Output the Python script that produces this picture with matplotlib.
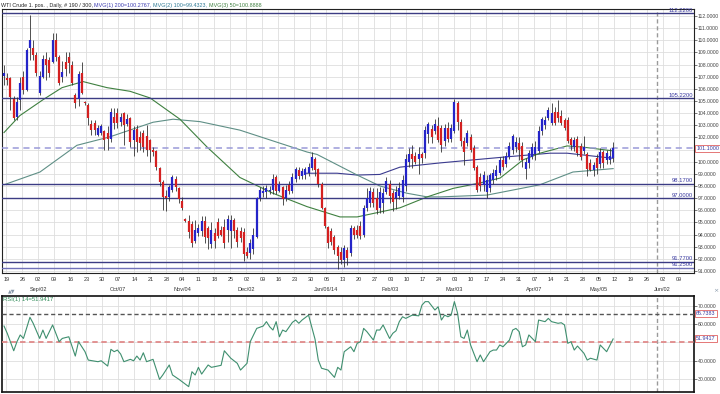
import matplotlib
matplotlib.use('Agg')
import matplotlib.pyplot as plt
import matplotlib.transforms as mtransforms
import numpy as np

plt.rcParams['font.family'] = ['Liberation Sans', 'DejaVu Sans']

# === Daily OHLC bars (WTI crude, Aug 2013 - May 2014) ===
opens = [107.1, 106.9, 106.9, 105.2, 103.7, 105.1, 107.0, 105.9, 109.4, 109.4,
         108.8, 105.7, 107.0, 108.5, 108.4, 108.2, 110.0, 108.6, 107.0, 108.2,
         108.6, 108.0, 105.5, 105.2, 107.3, 104.9, 104.7, 103.1, 103.2, 102.2,
         102.4, 102.5, 102.4, 101.9, 103.7, 104.0, 103.3, 104.0, 103.1, 103.6,
         101.8, 102.7, 102.0, 102.4, 102.1, 101.8, 101.0, 100.9, 99.5, 98.3,
         97.2, 97.1, 97.7, 98.6, 97.8, 96.8, 95.3, 95.1, 94.9, 93.5,
         94.1, 94.3, 95.1, 94.5, 93.2, 94.1, 95.0, 94.4, 94.6, 94.4,
         94.3, 95.2, 94.4, 94.3, 94.2, 92.6, 92.5, 92.8, 93.8, 97.0,
         97.4, 97.5, 97.6, 97.7, 98.7, 97.6, 97.9, 97.0, 98.1, 97.6,
         98.6, 99.3, 98.8, 98.9, 99.1, 99.5, 100.2, 99.4, 98.2, 96.2,
         94.6, 94.3, 93.8, 93.0, 92.6, 91.9, 92.7, 92.5, 94.5, 94.4,
         94.7, 94.0, 96.2, 96.6, 97.5, 97.0, 96.2, 96.6, 97.5, 98.2,
         97.4, 97.0, 97.2, 97.1, 98.0, 100.0, 100.6, 100.5, 100.2, 100.6,
         100.7, 102.3, 102.7, 102.5, 102.9, 102.8, 101.7, 102.8, 101.9, 102.5,
         104.8, 103.3, 101.7, 101.5, 102.0, 101.1, 99.6, 98.7, 98.1, 97.5,
         97.8, 98.5, 98.8, 99.1, 100.1, 99.8, 100.4, 101.0, 101.2, 101.5,
         101.3, 99.4, 99.9, 100.4, 100.6, 100.9, 102.5, 103.0, 103.6, 103.2,
         104.1, 104.1, 103.8, 103.4, 103.4, 101.9, 101.2, 101.9, 101.3, 100.9,
         100.6, 99.9, 99.3, 100.3, 99.8, 100.8, 100.1, 100.1, 100.3]
highs = [108.0, 107.3, 107.0, 105.4, 105.3, 107.0, 107.5, 109.4, 112.1, 110.0,
         109.0, 107.5, 108.8, 109.0, 108.6, 110.6, 110.6, 108.8, 108.3, 109.0,
         109.0, 108.3, 105.7, 107.5, 108.2, 105.0, 104.8, 103.4, 103.4, 103.0,
         103.1, 102.6, 102.9, 104.4, 104.4, 104.4, 104.0, 104.1, 103.9, 103.7,
         102.9, 103.0, 102.5, 102.6, 103.0, 101.9, 101.2, 101.0, 99.6, 98.5,
         97.7, 98.1, 98.9, 98.8, 97.9, 97.1, 95.4, 95.6, 95.1, 95.2,
         94.9, 95.5, 95.5, 94.7, 95.0, 94.5, 95.4, 94.7, 95.3, 95.6,
         95.6, 95.4, 94.6, 94.6, 94.5, 93.0, 93.6, 94.5, 97.1, 97.9,
         98.0, 98.1, 98.0, 99.0, 98.9, 98.4, 98.0, 98.1, 98.4, 99.1,
         99.6, 99.6, 99.5, 99.6, 99.9, 100.8, 100.4, 99.5, 98.3, 96.3,
         94.7, 94.5, 94.0, 93.1, 93.0, 93.1, 93.0, 94.8, 94.7, 94.8,
         95.1, 96.4, 97.8, 97.9, 97.8, 97.8, 97.9, 97.8, 98.7, 98.5,
         97.7, 98.0, 98.3, 98.9, 100.6, 101.1, 101.4, 100.8, 101.2, 100.8,
         102.9, 103.3, 103.0, 103.5, 103.7, 103.0, 103.1, 103.3, 103.1, 105.2,
         105.0, 103.5, 102.0, 102.6, 102.3, 101.4, 99.7, 99.1, 99.2, 98.9,
         99.1, 99.4, 99.7, 100.4, 100.5, 100.8, 101.6, 102.3, 102.0, 102.0,
         101.6, 100.3, 101.0, 101.5, 101.7, 102.9, 103.7, 103.8, 104.5, 104.8,
         104.5, 105.1, 104.3, 103.6, 103.7, 102.0, 102.0, 102.1, 101.5, 102.1,
         100.8, 100.2, 100.0, 100.6, 101.1, 101.0, 101.0, 101.1, 101.6]
lows = [106.3, 106.3, 104.3, 103.4, 103.4, 104.3, 105.6, 105.8, 108.4, 108.4,
        107.1, 105.5, 106.9, 106.7, 107.0, 108.1, 108.3, 106.3, 106.6, 107.1,
        107.3, 106.3, 104.4, 104.6, 105.6, 104.7, 103.0, 102.2, 102.2, 102.1,
        102.2, 101.0, 101.0, 101.6, 102.7, 102.8, 102.9, 101.4, 102.9, 101.2,
        100.5, 100.8, 101.0, 100.8, 100.5, 100.0, 100.5, 99.3, 98.0, 96.0,
        95.9, 96.8, 97.5, 97.6, 96.6, 96.0, 95.0, 93.7, 93.0, 93.3,
        93.9, 93.9, 93.3, 92.8, 92.9, 92.9, 93.7, 93.9, 92.9, 93.4,
        92.9, 93.7, 93.0, 93.4, 91.8, 92.1, 92.0, 92.4, 93.7, 96.8,
        97.1, 97.0, 97.3, 97.3, 97.3, 97.5, 96.4, 96.8, 97.3, 97.4,
        98.3, 98.6, 98.6, 98.6, 98.8, 99.3, 98.8, 97.9, 96.1, 94.5,
        92.9, 93.1, 92.4, 91.2, 91.6, 91.3, 91.5, 92.2, 93.6, 93.7,
        93.6, 93.8, 95.9, 96.3, 96.3, 95.7, 95.8, 95.8, 97.3, 96.6,
        95.9, 96.1, 96.9, 96.7, 97.6, 99.6, 99.5, 99.8, 99.0, 99.9,
        100.3, 101.5, 101.5, 102.3, 101.6, 100.8, 101.3, 101.6, 101.6, 102.4,
        102.6, 101.3, 99.7, 101.3, 100.8, 99.3, 97.5, 97.6, 97.6, 97.0,
        97.5, 98.2, 98.5, 98.9, 99.3, 99.6, 100.2, 100.6, 100.8, 100.1,
        99.6, 98.6, 99.5, 100.2, 100.1, 100.7, 102.2, 102.7, 103.4, 103.0,
        103.0, 103.3, 103.0, 102.6, 101.5, 101.0, 100.9, 100.5, 100.1, 100.6,
        98.8, 99.2, 98.8, 99.0, 99.5, 99.5, 99.8, 99.8, 100.0]
closes = [107.3, 106.7, 105.3, 103.6, 104.9, 106.5, 105.9, 109.2, 110.0, 108.8,
          107.3, 107.1, 108.5, 108.0, 107.3, 110.0, 108.6, 106.5, 107.4, 107.6,
          108.1, 106.5, 104.8, 107.2, 105.7, 104.8, 103.6, 102.6, 102.6, 102.8,
          102.9, 101.8, 101.9, 104.1, 103.2, 103.2, 103.7, 103.0, 103.5, 101.6,
          102.6, 101.6, 101.5, 101.2, 101.0, 101.0, 100.8, 99.6, 98.3, 97.1,
          97.0, 97.9, 98.7, 97.9, 96.9, 96.2, 95.1, 94.2, 93.3, 94.4,
          94.5, 95.1, 93.8, 93.7, 94.4, 93.5, 93.9, 94.0, 93.3, 95.3,
          95.2, 94.3, 93.4, 93.7, 92.4, 92.2, 93.3, 94.0, 97.0, 97.7,
          97.6, 97.8, 97.7, 98.6, 97.6, 98.2, 96.9, 97.7, 97.6, 98.7,
          99.4, 98.8, 99.2, 99.4, 99.6, 100.4, 99.3, 98.2, 96.2, 94.7,
          93.3, 93.4, 92.7, 92.2, 91.9, 92.9, 92.1, 94.5, 94.0, 94.0,
          93.9, 96.2, 97.0, 97.6, 96.6, 96.0, 97.5, 97.4, 98.4, 97.2,
          96.7, 97.5, 97.8, 98.5, 100.2, 100.6, 100.2, 100.0, 100.6, 100.3,
          102.6, 103.1, 102.0, 103.1, 101.8, 101.4, 102.8, 101.9, 102.8, 104.9,
          103.3, 101.7, 100.8, 102.4, 101.0, 99.5, 97.7, 98.0, 98.9, 98.5,
          98.9, 99.1, 99.3, 100.1, 99.6, 100.5, 101.3, 102.1, 101.6, 101.0,
          100.1, 100.0, 100.7, 101.2, 101.2, 102.5, 103.5, 103.4, 104.3, 104.0,
          103.2, 103.6, 103.2, 102.8, 101.7, 101.4, 101.8, 100.7, 100.4, 101.2,
          99.4, 99.3, 99.7, 99.5, 100.8, 99.9, 100.7, 100.5, 101.1]

# moving averages, read as knots (bar position, value)
ma200_pos = [93, 102.8, 109.0, 116.0, 122.2, 134.6, 144.8, 155.2, 168.5, 173.8, 188]
ma200_val = [99.05, 99.05, 98.9, 98.95, 99.55, 99.9, 100.15, 100.4, 100.7, 100.7, 100.28]
ma100_pos = [0, 11.1, 22.5, 32.7, 46.0, 52.2, 60.5, 72.8, 93.5, 96.6, 109.0, 116.0,
             124.4, 130.6, 134.6, 149.1, 165.4, 175.6, 188]
ma100_val = [98.1, 99.15, 101.35, 102.05, 103.25, 103.5, 103.3, 102.6, 100.8, 100.6,
             98.9, 98.0, 97.4, 97.1, 97.1, 97.25, 98.1, 99.15, 99.43]
ma50_pos = [0, 4.9, 12.0, 17.9, 24.4, 31.8, 38.9, 45.1, 54.3, 62.7, 72.8, 83.0, 93.5,
            103.7, 109.0, 116.0, 122.2, 130.6, 138.6, 146.9, 153.1, 160.2, 165.4,
            173.8, 178.7, 188]
ma50_val = [102.4, 103.8, 105.1, 106.1, 106.6, 106.1, 105.8, 105.25, 103.5, 101.2, 98.7,
            97.4, 96.3, 95.45, 95.45, 95.85, 96.2, 97.1, 97.8, 98.25, 98.65, 100.15,
            100.7, 101.3, 101.2, 100.89]

# RSI(14), read as (bar position, value)
rsi_pos = [0, 1, 3, 4, 5, 6, 8, 9, 11, 12, 13, 15, 17, 18, 20, 22, 23, 25, 26, 29,
           30, 32, 33, 34, 35, 36, 37, 39, 40, 41, 42, 43, 44, 46, 48, 49, 51, 52, 54, 57,
           58, 59, 60, 61, 63, 64, 66, 67, 68, 70, 72, 73, 75, 76, 78, 80, 81, 82, 83, 84,
           85, 86, 87, 89, 90, 91, 92, 94, 96, 97, 98, 100, 102, 103, 104, 105, 107, 108,
           109, 110, 111, 112, 114, 115, 116, 117, 119, 120, 121, 122, 123, 124, 126, 128,
           129, 130, 131, 133, 134, 135, 136, 137, 138, 139, 140, 141, 142, 143, 144, 146,
           147, 148, 150, 151, 152, 153, 154, 156, 157, 158, 159, 160, 161, 162, 164, 165,
           167, 168, 169, 171, 172, 173, 174, 175, 176, 177, 179, 180, 181, 183, 184, 186, 188]
rsi_val = [59.0, 55.0, 45.4, 50.4, 54.1, 52.2, 63.8, 60.5, 52.2, 56.8, 52.2, 59.6, 50.4,
           52.2, 53.1, 42.5, 50.4, 44.9, 40.3, 39.4, 39.9, 37.0, 46.2, 44.9, 45.8, 43.6,
           39.4, 40.7, 39.9, 42.5, 40.3, 44.3, 39.4, 40.7, 29.7, 32.1, 37.6, 32.1, 29.7,
           25.7, 33.9, 32.1, 36.3, 32.6, 37.6, 36.3, 37.0, 37.4, 45.4, 41.3, 38.5, 34.8,
           38.5, 50.4, 57.7, 59.0, 61.4, 58.6, 56.8, 61.4, 53.1, 56.8, 55.9, 61.0, 62.3,
           60.5, 62.3, 65.0, 51.7, 40.3, 35.8, 34.8, 30.8, 36.3, 34.8, 44.9, 47.6, 44.9,
           49.5, 50.4, 57.7, 55.9, 51.3, 56.8, 56.8, 59.6, 52.2, 55.0, 56.4, 61.4, 64.1,
           63.2, 65.0, 64.6, 70.5, 72.4, 72.4, 67.8, 69.6, 62.3, 65.0, 64.1, 65.0, 72.4,
           66.0, 53.1, 52.2, 56.8, 48.6, 39.4, 43.1, 39.4, 44.9, 45.8, 45.8, 48.6, 47.6,
           51.3, 56.8, 57.7, 55.9, 47.6, 48.6, 54.1, 50.4, 62.3, 61.4, 63.2, 61.4, 60.5,
           60.8, 59.6, 49.5, 50.4, 45.8, 48.0, 44.0, 40.3, 41.3, 40.3, 48.6, 44.9, 51.9]

levels = [112.22, 105.22, 98.17, 97.00, 91.77, 91.25]
last_price = 101.10
rsi_lines = [65.7383, 50.0]
rsi_last = 51.9417

price_ticks = [91, 92, 93, 94, 95, 96, 97, 98, 99, 100, 102, 103, 104, 105,
               106, 107, 108, 109, 110, 111, 112]   # 101 sits under the price box
rsi_ticks = [30, 40, 60, 70]                       # 50 sits under the RSI box

day_labels = ['19', '26', '02', '09', '16', '23', '30', '07', '14', '21', '28', '04',
              '11', '18', '25', '02', '09', '16', '23', '30', '06', '13', '20', '27',
              '03', '10', '17', '24', '03', '10', '17', '24', '31', '07', '14', '21',
              '28', '05', '12', '19', '26', '02', '09']
month_week = [2, 7, 11, 15, 20, 24, 28, 33, 37, 41]
month_labels = ['Sep/02', 'Oct/07', 'Nov/04', 'Dec/02', 'Jan/06/14', 'Feb/03',
                'Mar/03', 'Apr/07', 'May/05', 'Jun/02']

# === layout in pixels ===
W, H = 720, 394
fig = plt.figure(figsize=(7.2, 3.94), dpi=100)


def px_axes(l, t, r, b):
    return fig.add_axes([l / W, 1 - b / H, (r - l) / W, (b - t) / H])


ax = px_axes(2, 9, 694, 273)
ax2 = px_axes(2, 296, 694, 392)

week_pos = 0.7 + 4.94 * np.arange(len(day_labels))
xlim = (-0.62, 212.96)
cut_pos = 201.5
grid_c = '#dedede'

for a in (ax, ax2):
    a.set_xlim(*xlim)
    a.set_xticks(week_pos)
    a.tick_params(axis='x', length=0, labelbottom=False)
    a.grid(True, color=grid_c, lw=0.6)
    a.set_axisbelow(True)
    a.yaxis.tick_right()
    a.tick_params(axis='y', labelsize=3.7, length=2, pad=0.8, colors='#444444', width=0.5)
    a.axvline(cut_pos, color='#9a9a9a', lw=1.0, ls=(0, (3, 2)), zorder=2)

for s in ax.spines.values():
    s.set_linewidth(0.8)
    s.set_color('#222222')
for s in ax2.spines.values():
    s.set_linewidth(1.2)
    s.set_color('#111111')

# === price panel ===
ax.set_ylim(90.83, 112.58)
ax.set_yticks(price_ticks)
ax.yaxis.set_major_formatter(matplotlib.ticker.FormatStrFormatter('%.4f'))
ax.set_yticks([101], minor=True)
ax.grid(True, which='minor', axis='y', color=grid_c, lw=0.6)
ax.tick_params(axis='y', which='minor', length=0)

x = np.arange(len(closes))
o = np.array(opens)
c = np.array(closes)
up = c >= o
ax.vlines(x, lows, highs, color='#333333', lw=0.6, zorder=4)
ax.vlines(x[up], o[up], c[up], color='#2424c8', lw=1.6, zorder=5)
ax.vlines(x[~up], o[~up], c[~up], color='#d42020', lw=1.6, zorder=5)

ax.plot(ma200_pos, ma200_val, color='#3b3b8f', lw=0.8, zorder=3)
ax.plot(ma100_pos, ma100_val, color='#5f8f86', lw=0.8, zorder=3)
ax.plot(ma50_pos, ma50_val, color='#3f8040', lw=0.8, zorder=3)

tr = mtransforms.blended_transform_factory(ax.transAxes, ax.transData)
for lv in levels:
    col = '#7070b8' if lv == levels[-1] else '#3c3c84'
    ax.axhline(lv, color=col, lw=1.0, zorder=3)
    ax.text(0.998, lv + 0.05, f'{lv:.4f}', transform=tr, ha='right', va='bottom',
            fontsize=4.2, color='#3a3aa0', zorder=6, clip_on=False)

ax.axhline(last_price, color='#9a9ad8', lw=1.1, ls=(0, (4, 3)), zorder=3)
ax.text(1.003, last_price, f'{last_price:.4f}', transform=tr, ha='left', va='center',
        fontsize=3.9, color='#3a3aa0', zorder=7, clip_on=False,
        bbox=dict(boxstyle='square,pad=0.2', fc='white', ec='#e06060', lw=0.6))

# date labels below the price panel
trx = ax.get_xaxis_transform()
for p, lab in zip(week_pos, day_labels):
    ax.text(p, -0.016, lab, transform=trx, ha='center', va='top', fontsize=4.0,
            color='#333333', clip_on=False)
for k, lab in zip(month_week, month_labels):
    ax.text(week_pos[k], -0.052, lab, transform=trx, ha='center', va='top',
            fontsize=4.0, color='#333333', clip_on=False)

# === RSI panel ===
ax2.set_ylim(22.75, 75.5)
ax2.set_yticks(rsi_ticks)
ax2.yaxis.set_major_formatter(matplotlib.ticker.FormatStrFormatter('%.4f'))
ax2.set_yticks([50], minor=True)
ax2.grid(True, which='minor', axis='y', color=grid_c, lw=0.6)
ax2.tick_params(axis='y', which='minor', length=0)
ax2.plot(rsi_pos, rsi_val, color='#3f8f6f', lw=0.8, zorder=4)
ax2.axhline(rsi_lines[0], color='#555555', lw=1.0, ls=(0, (3, 2)), zorder=3)
ax2.axhline(rsi_lines[1], color='#e08a8a', lw=1.3, ls=(0, (3, 2)), zorder=3)
tr2 = mtransforms.blended_transform_factory(ax2.transAxes, ax2.transData)
for v in (rsi_lines[0], rsi_last):
    ax2.text(1.003, v, f'{v:.4f}', transform=tr2, ha='left', va='center',
             fontsize=3.9, color='#3a3aa0', zorder=7, clip_on=False,
             bbox=dict(boxstyle='square,pad=0.2', fc='white', ec='#e06060', lw=0.6))
ax2.text(0.002, 0.985, f'RSI(1) 14={rsi_last:.4f}', transform=ax2.transAxes,
         ha='left', va='top', fontsize=4.2, color='#2e8b57')

fig.text(8 / W, 1 - 291 / H, '\u25b2\u25bc', fontsize=3.5, color='#8899aa',
         ha='left', va='center', family='DejaVu Sans')
fig.text(716 / W, 1 - 291 / H, '\u00d7', fontsize=4.5, color='#8899aa',
         ha='center', va='center', family='DejaVu Sans')

# === coloured header line ===
title_parts = [('WTI Crude 1. pos. , Daily, # 190 / 300, ', '#222222'),
               ('MVG(1) 200=100.2767, ', '#3b3bb0'),
               ('MVG(2) 100=99.4323, ', '#2f7a95'),
               ('MVG(3) 50=100.8888', '#3f8040')]
renderer = fig.canvas.get_renderer()
tx = 1 / W
for txt, col in title_parts:
    t = fig.text(tx, 1 - 5 / H, txt, color=col, fontsize=3.9, ha='left', va='center')
    bb = t.get_window_extent(renderer=renderer)
    tx += bb.width / fig.bbox.width

fig.savefig('out.png', dpi=100)
